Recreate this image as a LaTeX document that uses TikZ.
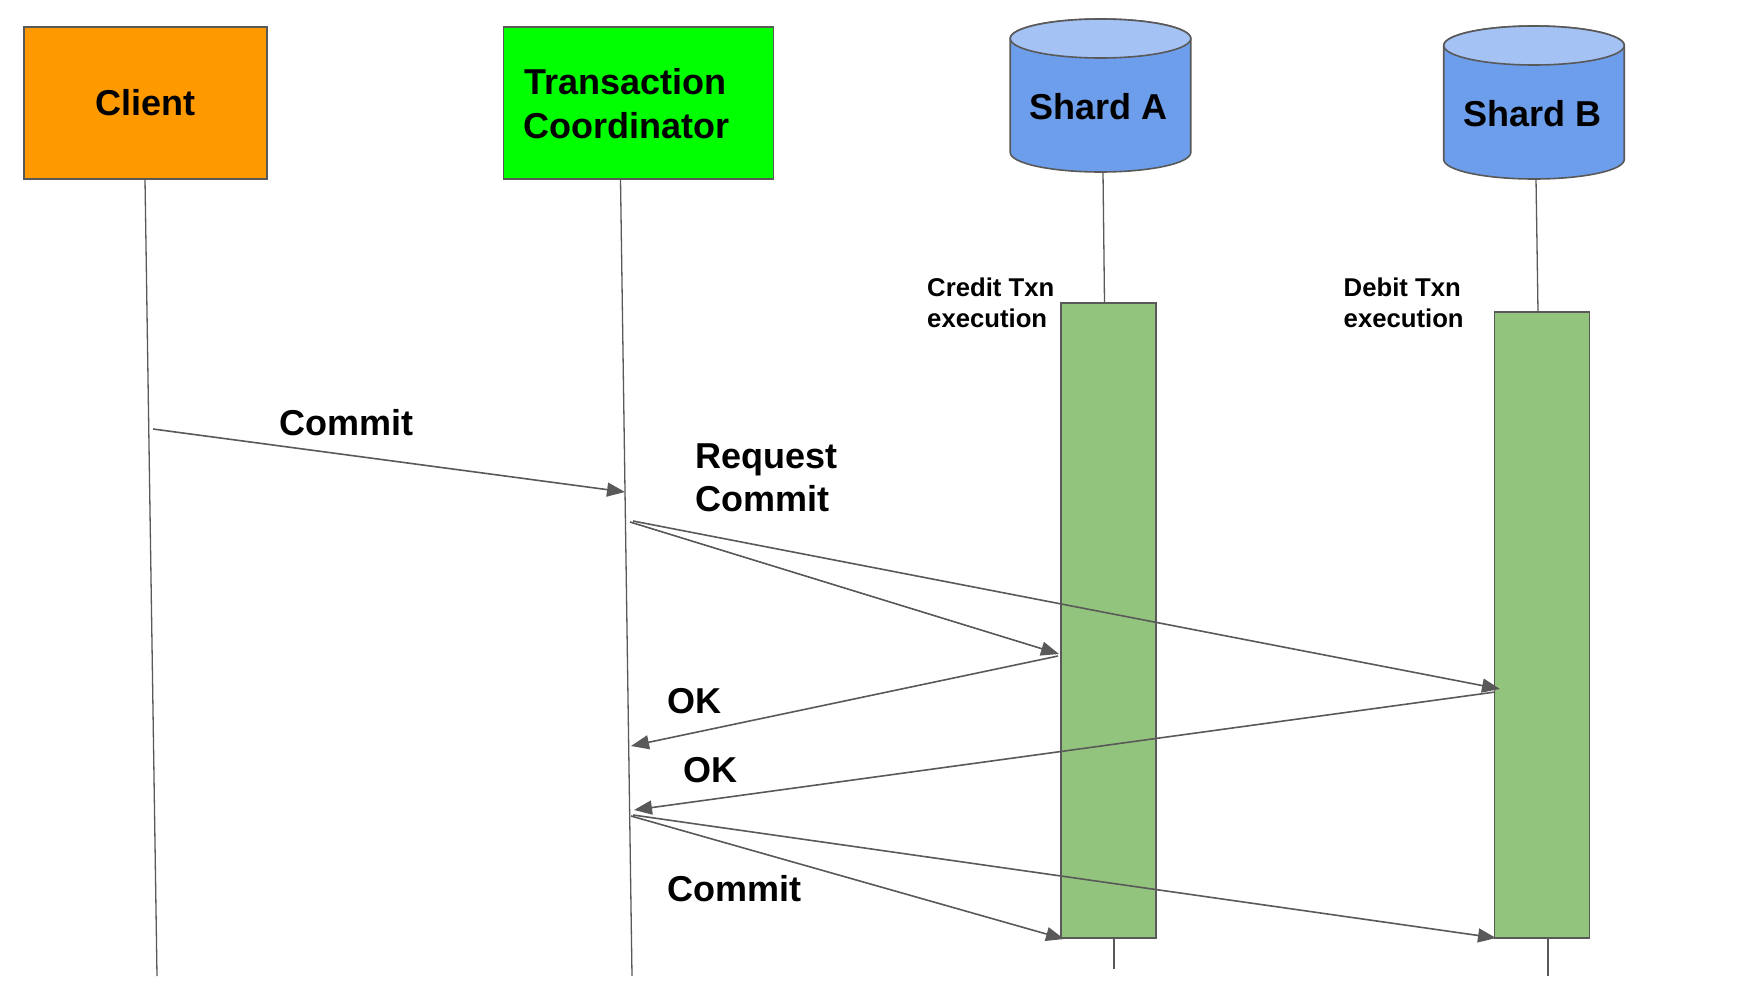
\documentclass[tikz,border=0pt]{standalone}
\usepackage{fontspec}
\setmainfont{Liberation Sans}
\usetikzlibrary{arrows.meta}
\definecolor{linegrey}{HTML}{595959}
\definecolor{clientorange}{HTML}{FF9900}
\definecolor{coordgreen}{HTML}{00FF00}
\definecolor{shardblue}{HTML}{6D9EEB}
\definecolor{shardtop}{HTML}{A4C2F4}
\definecolor{execgreen}{HTML}{93C47D}
\tikzset{
  actorbox/.style={draw=linegrey,line width=1.6pt,inner sep=0pt,outer sep=0pt},
  shardframe/.style={minimum width=180.5pt,minimum height=153pt,inner sep=0pt,outer sep=0pt},
  shardline/.style={draw=linegrey,line width=1.6pt},
  execbar/.style={actorbox,fill=execgreen,minimum width=95pt},
  lifeline/.style={draw=linegrey,line width=1.3pt},
  msg/.style={draw=linegrey,line width=1.6pt,-{Triangle[length=18pt,width=14pt]}},
  biglabel/.style={anchor=base west,inner sep=0pt,align=left,font=\fontsize{36}{43}\selectfont\bfseries},
  smalllabel/.style={anchor=base west,inner sep=0pt,align=left,font=\fontsize{25.7}{31}\selectfont\bfseries}
}
\newcommand{\shardcylinder}[2]{%
  \node[shardframe] (#1) at (#2) {};
  \draw[shardline,fill=shardblue]
    ([yshift=-19.5pt]#1.north west) -- ([yshift=19.5pt]#1.south west)
    arc[start angle=180,end angle=360,x radius=90.25pt,y radius=19.5pt]
    -- ([yshift=-19.5pt]#1.north east)
    arc[start angle=0,end angle=180,x radius=90.25pt,y radius=19.5pt] -- cycle;
  \draw[shardline,fill=shardtop] ([yshift=-19.5pt]#1.north) ellipse[x radius=90.25pt,y radius=19.5pt];
}
\begin{document}
\begin{tikzpicture}[x=1pt,y=-1pt]
\useasboundingbox (0,0) rectangle (1755,1004);
% lifeline coordinates
\coordinate (clienttop) at (145,179);
\coordinate (clientend) at (157,976);
\coordinate (coordtop) at (620.5,179);
\coordinate (coordend) at (632,976);
\coordinate (atop) at (1103,172);
\coordinate (abartop) at (1104.5,303);
\coordinate (abarbot) at (1114,938);
\coordinate (aend) at (1114,969);
\coordinate (btop) at (1536,179);
\coordinate (bbartop) at (1538,312);
\coordinate (bbarbot) at (1548,938);
\coordinate (bend) at (1548,976);
% lifelines
\draw[lifeline] (clienttop) -- (clientend);
\draw[lifeline] (coordtop) -- (coordend);
\draw[lifeline] (atop) -- (abartop);
\draw[lifeline] (abarbot) -- (aend);
\draw[lifeline] (btop) -- (bbartop);
\draw[lifeline] (bbarbot) -- (bend);
% actors
\node[actorbox,fill=clientorange,minimum width=243pt,minimum height=152pt] (client) at (145.5,103) {};
\node[actorbox,fill=coordgreen,minimum width=270pt,minimum height=152pt] (coord) at (638.5,103) {};
\shardcylinder{sharda}{1100.5,95.5}
\shardcylinder{shardb}{1534,102.5}
\node[execbar,minimum height=635pt] (bara) at (1108.5,620.5) {};
\node[execbar,minimum height=626pt] (barb) at (1542,625) {};
% message end points
\coordinate (m1s) at (153,429);
\coordinate (m1e) at (625,492);
\coordinate (m2s) at (630,522);
\coordinate (m2e) at (1059,654);
\coordinate (m3s) at (633,521);
\coordinate (m3e) at (1500,689);
\coordinate (m4s) at (1058,656);
\coordinate (m4e) at (631,746);
\coordinate (m5s) at (1495,692);
\coordinate (m5e) at (634,810);
\coordinate (m6s) at (631,816);
\coordinate (m6e) at (1064,939);
\coordinate (m7s) at (633,815);
\coordinate (m7e) at (1496,938);
\draw[msg] (m1s) -- (m1e);
\draw[msg] (m2s) -- (m2e);
\draw[msg] (m3s) -- (m3e);
\draw[msg] (m4s) -- (m4e);
\draw[msg] (m5s) -- (m5e);
\draw[msg] (m6s) -- (m6e);
\draw[msg] (m7s) -- (m7e);
% labels
\node[biglabel] (lclient) at (95.5,115) {Client};
\node[biglabel] (ltrans) at (524,94) {Transaction};
\node[biglabel] (lcoord) at (523.5,138) {Coordinator};
\node[biglabel] (lsa) at (1029.5,119) {Shard A};
\node[biglabel] (lsb) at (1463.5,126) {Shard B};
\node[smalllabel] (lcredit) at (927,296) {Credit Txn};
\node[smalllabel] (lcredit2) at (927,327) {execution};
\node[smalllabel] (ldebit) at (1343.5,296) {Debit Txn};
\node[smalllabel] (ldebit2) at (1343.5,327) {execution};
\node[biglabel] (lcommit) at (279,435) {Commit};
\node[biglabel] (lreq) at (695.5,468) {Request};
\node[biglabel] (lreq2) at (695.5,511) {Commit};
\node[biglabel] (lok1) at (667,713) {OK};
\node[biglabel] (lok2) at (683,782) {OK};
\node[biglabel] (lcommit2) at (667,901) {Commit};
\end{tikzpicture}
\end{document}
